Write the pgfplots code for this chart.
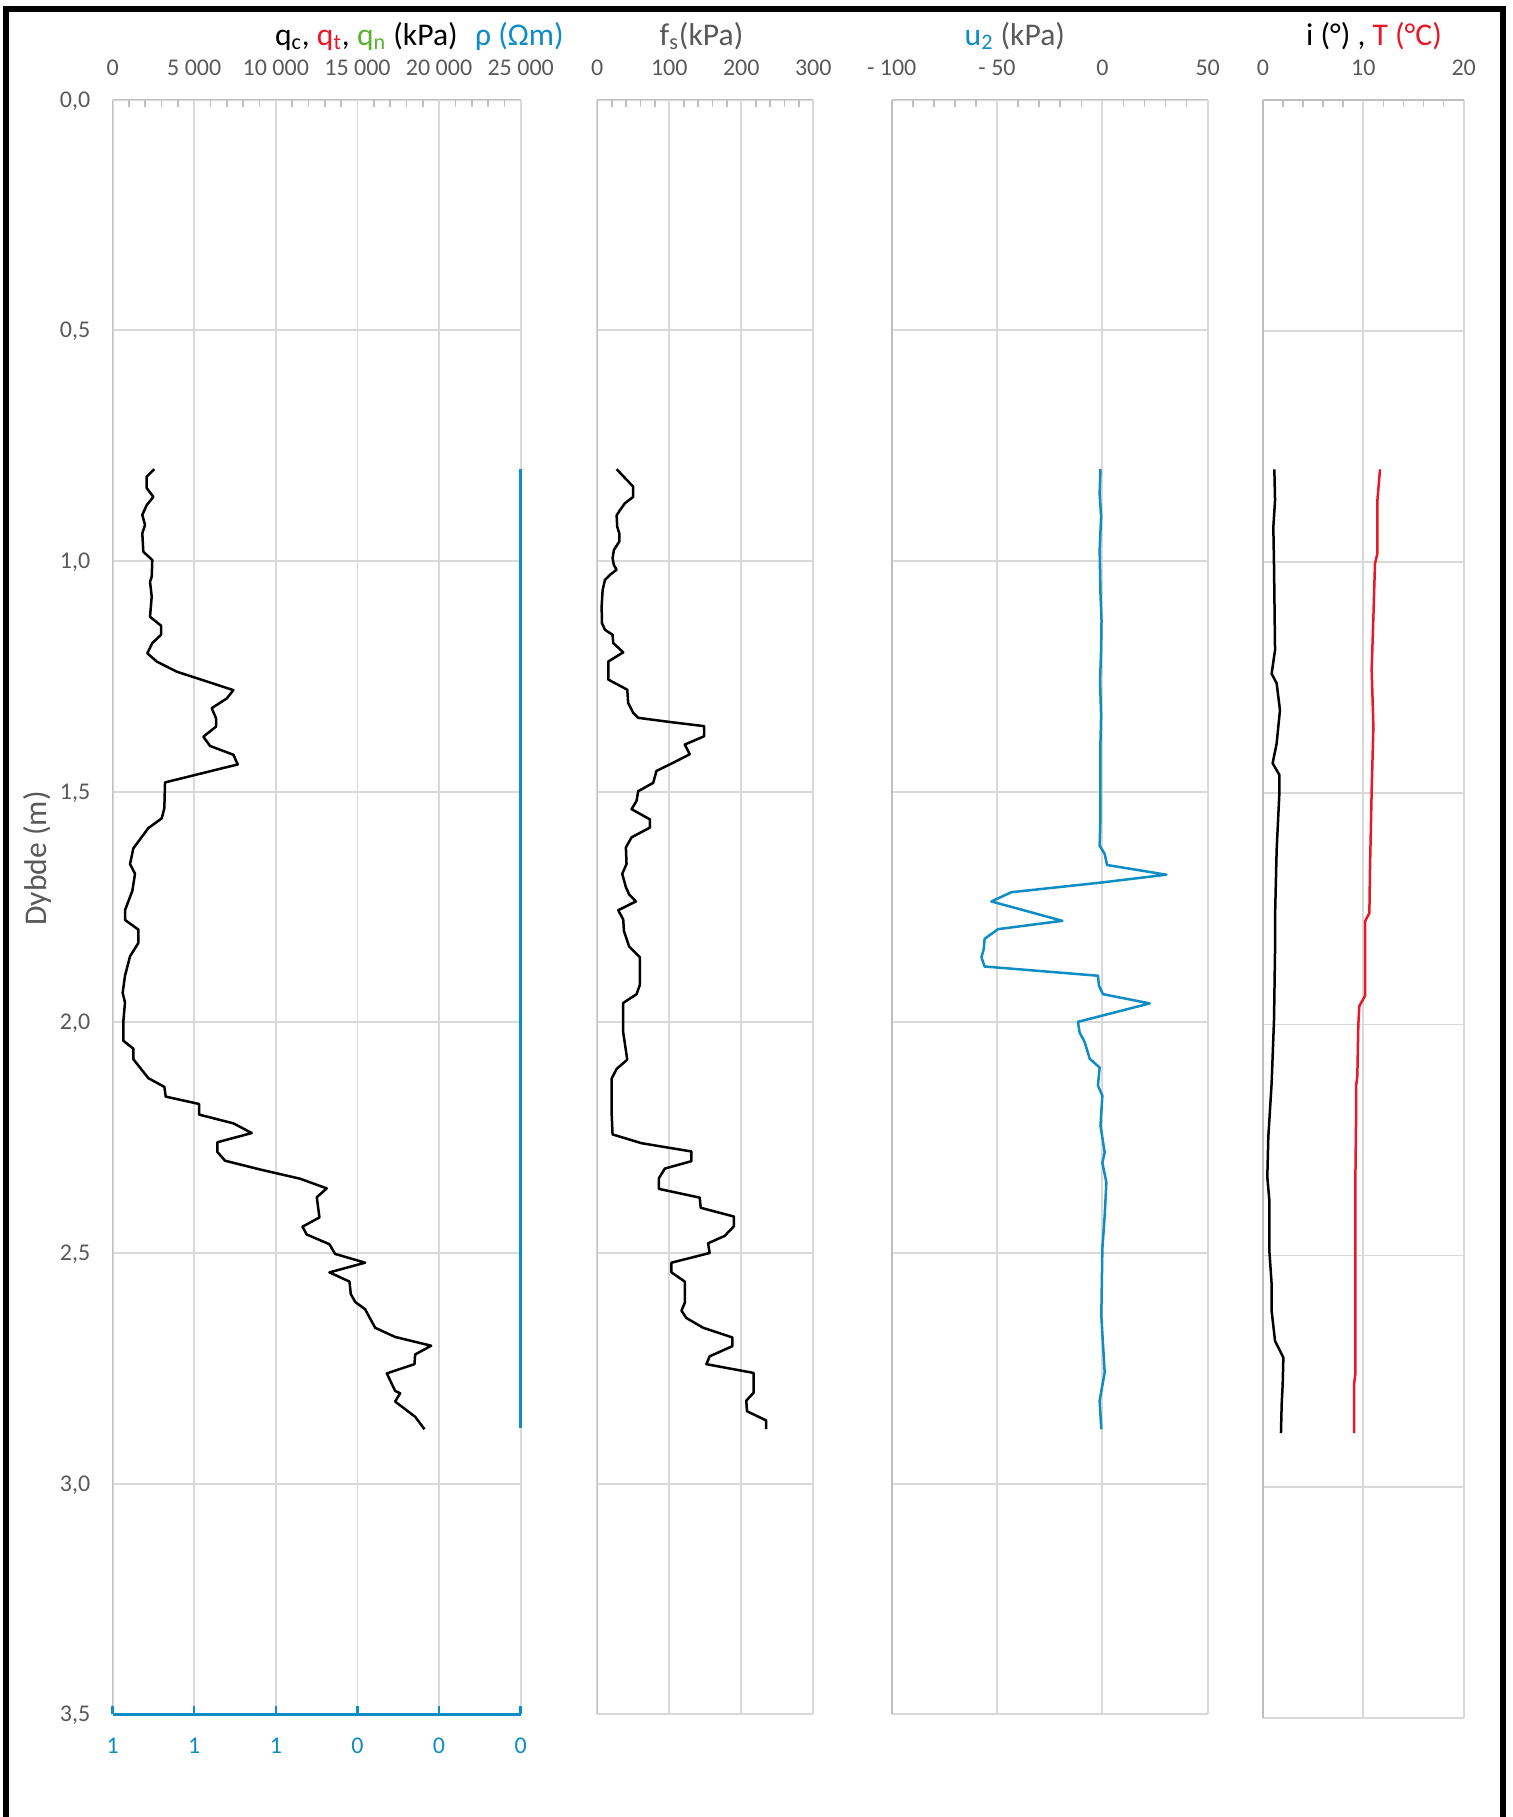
\documentclass[border=0pt]{standalone}
\usepackage{fontspec}
\setmainfont{Carlito}
\usepackage{pgfplots}
\pgfplotsset{compat=1.18}
\definecolor{txtgray}{HTML}{595959}
\definecolor{gridgray}{HTML}{D9D9D9}
\definecolor{axgray}{HTML}{BFBFBF}
\definecolor{cptblue}{RGB}{14,140,196}
\definecolor{cptred}{RGB}{232,24,40}
\definecolor{cptgreen}{RGB}{92,178,50}
\newcommand{\tickfont}{\fontsize{12}{14}\selectfont}
\newcommand{\titlefont}{\fontsize{15.8}{19}\selectfont}
\pgfplotsset{
  panel/.style={
    scale only axis, anchor=center,
    y dir=reverse, ymin=0, ymax=3.5,
    ytick={0,0.5,1,1.5,2,2.5,3,3.5},
    axis x line*=top, axis y line*=left,
    x axis line style={draw=axgray, line width=0.8pt, -},
    y axis line style={draw=axgray, line width=0.8pt, -},
    grid=major, major grid style={draw=gridgray, line width=0.9pt},
    minor x tick num=4,
    tick align=inside,
    major tick length=0pt, minor tick length=3.5pt,
    every tick/.style={draw=axgray, line width=0.8pt},
    scaled x ticks=false, scaled y ticks=false,
    xticklabel style={font=\tickfont, text=txtgray, anchor=base, yshift=12.2pt},
    yticklabel=\empty,
    every axis plot/.append style={line width=1.25pt, line join=round},
  }
}
\begin{document}
\begin{tikzpicture}
\useasboundingbox (0,0) rectangle (756pt,-908.5pt);
% ---------------- panel 1 : qc ----------------
\begin{axis}[panel, at={(158.325pt,-453.475pt)}, width=204.05pt, height=807.35pt,
  xmin=0, xmax=25000, xtick={0,5000,10000,15000,20000,25000},
  xticklabels={0,5 000,10 000,15 000,20 000,25 000},
  yticklabels={{0,0},{0,5},{1,0},{1,5},{2,0},{2,5},{3,0},{3,5}},
  yticklabel style={font=\tickfont, text=txtgray, anchor=base east, inner sep=0pt, xshift=-11pt, yshift=-3.8pt}]
\addplot[black] coordinates {
(2556,0.801) (2090,0.817) (2090,0.842) (2495,0.861) (2090,0.879) (1820,0.900) (1986,0.922) (1820,0.940)
(1882,0.980) (2433,0.998) (2396,1.034) (2292,1.045) (2396,1.077) (2292,1.121) (2966,1.140) (2966,1.160)
(2433,1.178) (2127,1.200) (2703,1.218) (3929,1.240) (5155,1.254) (7398,1.280) (6993,1.298) (6074,1.319)
(6337,1.341) (6337,1.359) (5559,1.381) (5970,1.401) (7398,1.420) (7667,1.441) (3212,1.480) (3169,1.536)
(3009,1.558) (2188,1.579) (1269,1.623) (1067,1.657) (1373,1.678) (1210,1.715) (760,1.757) (760,1.778)
(1577,1.799) (1577,1.828) (1067,1.857) (760,1.899) (617,1.936) (760,1.957) (658,1.998) (658,2.040)
(1271,2.057) (1271,2.080) (2190,2.121) (3171,2.140) (3253,2.161) (5296,2.177) (5296,2.200) (7400,2.219)
(8524,2.240) (6419,2.260) (6419,2.281) (6889,2.300) (9034,2.319) (11486,2.339) (13120,2.360) (12508,2.379)
(12671,2.423) (11630,2.443) (11895,2.460) (13284,2.481) (13631,2.502) (15470,2.521) (13284,2.542)
(14510,2.562) (14591,2.589) (14857,2.606) (15470,2.622) (16083,2.662) (17309,2.682) (19515,2.701)
(18534,2.720) (18493,2.741) (16798,2.761) (17309,2.799) (17615,2.804) (17309,2.822) (18534,2.855) (19106,2.882)
};
\end{axis}
% rho axis (secondary, bottom)
\begin{axis}[scale only axis, anchor=center, at={(158.325pt,-453.475pt)}, width=204.05pt, height=807.35pt,
  y dir=reverse, ymin=0, ymax=3.5, xmin=0, xmax=1, x dir=reverse,
  axis x line*=bottom, axis y line=none, clip=false,
  xtick={0,0.2,0.4,0.6,0.8,1}, xticklabels={0,0,0,1,1,1},
  tick align=inside, major tick length=4pt,
  xtick style={draw=cptblue, line width=1.2pt},
  x axis line style={draw=cptblue, line width=1.3pt, -},
  xticklabel style={font=\tickfont, text=cptblue, anchor=base, yshift=-19.35pt}]
\addplot[cptblue, line width=1.4pt] coordinates {(0,0.80) (0,1.5) (0,2.0) (0,2.5) (0,2.88)};
\end{axis}
% ---------------- panel 2 : fs ----------------
\begin{axis}[panel, at={(352.65pt,-453.475pt)}, width=108pt, height=807.35pt,
  xmin=0, xmax=300, xtick={0,100,200,300}, xticklabels={0,100,200,300}]
\addplot[black] coordinates {
(26.8,0.801) (49.9,0.839) (49.9,0.861) (38.3,0.875) (31.4,0.890) (26.8,0.901) (27.7,0.926) (30.5,0.940)
(30.5,0.958) (23.1,0.976) (21.2,0.994) (23.1,1.009) (26.8,1.019) (17.6,1.030) (10.6,1.041) (7.4,1.063)
(6.0,1.099) (6.5,1.135) (10.6,1.149) (21.2,1.160) (22.2,1.178) (36.0,1.198) (15.2,1.218) (15.2,1.257)
(41.6,1.279) (42.9,1.308) (49.9,1.329) (56.8,1.340) (100.7,1.349) (148.3,1.358) (148.3,1.380) (121.5,1.398)
(128.4,1.419) (100.7,1.441) (82.2,1.455) (77.6,1.481) (56.8,1.499) (54.5,1.520) (47.6,1.538) (73.0,1.560)
(73.0,1.578) (47.6,1.599) (39.7,1.621) (40.6,1.657) (34.6,1.678) (39.7,1.707) (44.3,1.723) (53.6,1.738)
(29.1,1.757) (36.0,1.777) (37.0,1.802) (44.3,1.836) (59.1,1.859) (59.1,1.919) (54.5,1.939) (36.0,1.958)
(36.0,2.022) (41.6,2.081) (26.8,2.101) (19.9,2.122) (19.9,2.197) (21.2,2.243) (61.4,2.262) (130.7,2.280)
(130.7,2.301) (93.8,2.317) (85.5,2.338) (85.5,2.361) (142.3,2.380) (143.6,2.402) (189.8,2.421) (189.8,2.442)
(176.9,2.463) (153.8,2.479) (156.1,2.500) (103.0,2.521) (103.0,2.542) (121.5,2.562) (121.5,2.608)
(116.9,2.625) (123.8,2.641) (146.9,2.662) (187.5,2.683) (187.5,2.702) (156.1,2.724) (151.5,2.741)
(217.1,2.760) (217.1,2.803) (206.9,2.820) (207.9,2.843) (234.6,2.863) (234.6,2.882)
};
\end{axis}
% ---------------- panel 3 : u2 ----------------
\begin{axis}[panel, at={(524.85pt,-453.475pt)}, width=158pt, height=807.35pt,
  xmin=-100, xmax=50, xtick={-100,-50,0,50}, xticklabels={- 100,- 50,0,50}]
\addplot[cptblue] coordinates {
(-0.9,0.801) (-1.3,0.854) (-0.6,0.904) (-1.3,0.976) (-0.9,1.070) (-0.4,1.130) (-0.6,1.192) (-1.1,1.260)
(-0.6,1.336) (-1.0,1.410) (-0.9,1.481) (-0.9,1.553) (-1.3,1.617) (1.1,1.635) (2.2,1.659) (30.4,1.680)
(-0.5,1.697) (-43.2,1.718) (-52.7,1.738) (-19.0,1.780) (-49.5,1.798) (-55.9,1.819) (-56.3,1.841)
(-57.4,1.859) (-55.9,1.879) (-2.1,1.899) (-1.6,1.921) (0.3,1.939) (22.5,1.959) (-11.6,1.999) (-10.8,2.022)
(-8.4,2.043) (-6.0,2.079) (-1.3,2.098) (-2.1,2.137) (0,2.159) (-0.9,2.224) (1.1,2.282) (0,2.304)
(1.9,2.347) (1.1,2.419) (0,2.491) (-0.5,2.636) (1.1,2.759) (-1.3,2.820) (-0.5,2.882)
};
\end{axis}
% ---------------- panel 4 : i, T ----------------
\begin{axis}[panel, at={(681.675pt,-454.425pt)}, width=100.35pt, height=808.85pt,
  xmin=0, xmax=20, xtick={0,10,20}, xticklabels={0,10,20}]
\addplot[black] coordinates {
(1.13,0.799) (1.20,0.866) (1.03,0.924) (1.10,1.010) (1.20,1.190) (0.86,1.241) (1.36,1.262) (1.69,1.320)
(1.36,1.392) (0.96,1.435) (1.63,1.460) (1.63,1.500) (1.36,1.622) (1.20,1.767) (1.20,1.839) (1.10,1.989)
(0.86,2.127) (0.53,2.243) (0.43,2.330) (0.63,2.380) (0.63,2.489) (0.86,2.562) (0.86,2.620) (1.20,2.685)
(2.03,2.721) (1.96,2.779) (1.86,2.822) (1.79,2.884)
};
\addplot[cptred] coordinates {
(11.66,0.799) (11.40,0.866) (11.40,0.981) (11.16,1.003) (11.0,1.118) (10.83,1.233) (11.0,1.356)
(10.83,1.493) (10.66,1.666) (10.60,1.759) (10.17,1.777) (10.17,1.938) (9.60,1.960) (9.50,2.0)
(9.40,2.112) (9.27,2.134) (9.27,2.214) (9.20,2.344) (9.20,2.757) (9.07,2.779) (9.07,2.884)
};
\end{axis}
% ---------------- titles and labels ----------------
\node[anchor=base west, inner sep=0pt, font=\titlefont] at (137.3pt,-22.7pt)
  {q\textsubscript{c}, {\color{cptred}q\textsubscript{t}}, {\color{cptgreen}q\textsubscript{n}} (kPa)\hspace{0.55em}{\color{cptblue}ρ (Ωm)}};
\node[anchor=base, inner sep=0pt, font=\titlefont, text=txtgray] at (350.75pt,-22.7pt) {f\textsubscript{s}(kPa)};
\node[anchor=base, inner sep=0pt, font=\titlefont, text=txtgray] at (507.4pt,-22.7pt) {{\color{cptblue}u\textsubscript{2}} (kPa)};
\node[anchor=base, inner sep=0pt, font=\titlefont] at (687pt,-22.7pt) {i (°) , {\color{cptred}T (°C)}};
\node[rotate=90, anchor=center, inner sep=0pt, font=\titlefont, text=txtgray] at (18.5pt,-429.25pt) {Dybde (m)};
% frame
\draw[black, line width=3pt, line join=miter] (3pt,-910pt) -- (3pt,-4.5pt) -- (751.5pt,-4.5pt) -- (751.5pt,-910pt);
\end{tikzpicture}
\end{document}
